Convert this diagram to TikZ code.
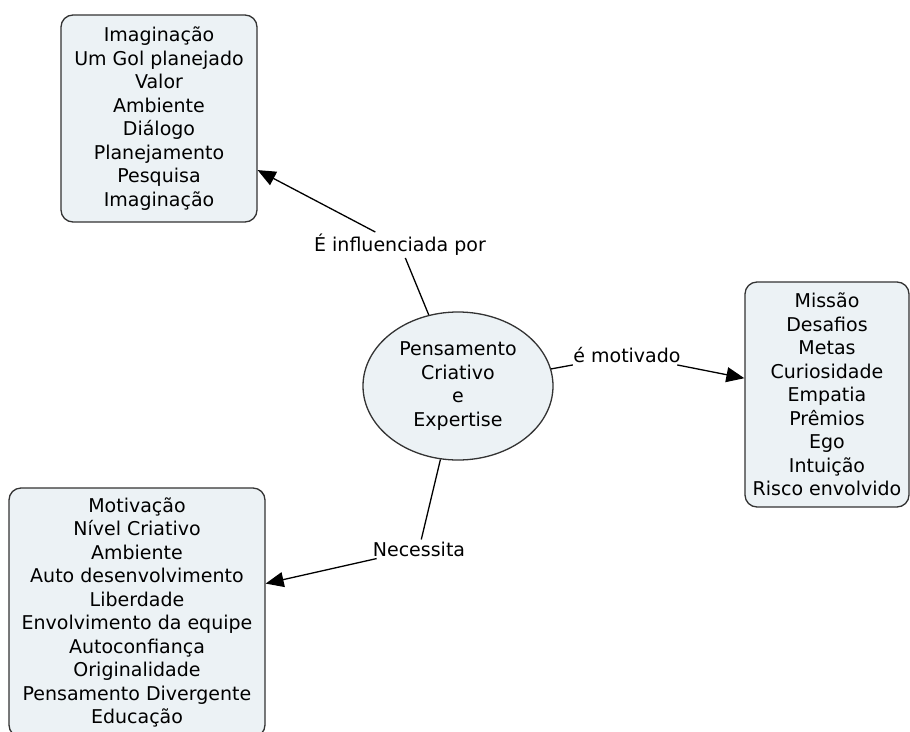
\documentclass[tikz,border=0pt]{standalone}
\usepackage{fontspec}
\setmainfont{DejaVu Sans}
\usetikzlibrary{arrows.meta,shapes.geometric}

\begin{document}
\begin{tikzpicture}[x=1pt, y=-1pt,
    lista/.style={draw=black!80, line width=1.3pt, rounded corners=12pt, fill=boxfill,
        align=center, inner sep=0pt, font=\fontsize{19}{23.5}\selectfont},
    rotulo/.style={inner sep=2pt, font=\fontsize{19}{23.5}\selectfont},
    liga/.style={line width=1.3pt},
    seta/.style={line width=1.3pt, -{Triangle[length=18pt,width=15pt]}}]
            \definecolor{boxfill}{RGB}{236,242,245}
            \useasboundingbox (0,0) rectangle (910,731);   %Rand
            \node [lista, ellipse, minimum width=190pt, minimum height=148pt] (pce) at (458,386)
                {Pensamento\\Criativo\\e\\Expertise};     %Mitte
            \node [lista, minimum width=196pt, minimum height=207pt] (influencias) at (159,118.5)
                {Imaginação\\Um Gol planejado\\Valor\\Ambiente\\Diálogo\\Planejamento\\Pesquisa\\Imaginação};
            \node [lista, minimum width=164pt, minimum height=225pt] (motivos) at (827,394.5)
                {Missão\\Desafios\\Metas\\Curiosidade\\Empatia\\Prêmios\\Ego\\Intuição\\Risco envolvido};
            \node [lista, minimum width=256pt, minimum height=249pt] (necessidades) at (137,612.5)
                {Motivação\\Nível Criativo\\Ambiente\\Auto desenvolvimento\\Liberdade\\Envolvimento da equipe\\Autoconfiança\\Originalidade\\Pensamento Divergente\\Educação};
            \node [rotulo] (influenciada) at (400,245) {É influenciada por};
            \node [rotulo] (motivado) at (627,355) {é motivado};
            \node [rotulo] (necessita) at (419,549) {Necessita};
            \draw [liga] (pce) -- (influenciada);         %oben
            \draw [seta] (influenciada) -- (influencias);
            \draw [liga] (pce) -- (motivado);             %rechts
            \draw [seta] (motivado) -- (motivos);
            \draw [liga] (pce) -- (necessita);            %unten
            \draw [seta] (necessita) -- (necessidades);
        \end{tikzpicture}
\end{document}
